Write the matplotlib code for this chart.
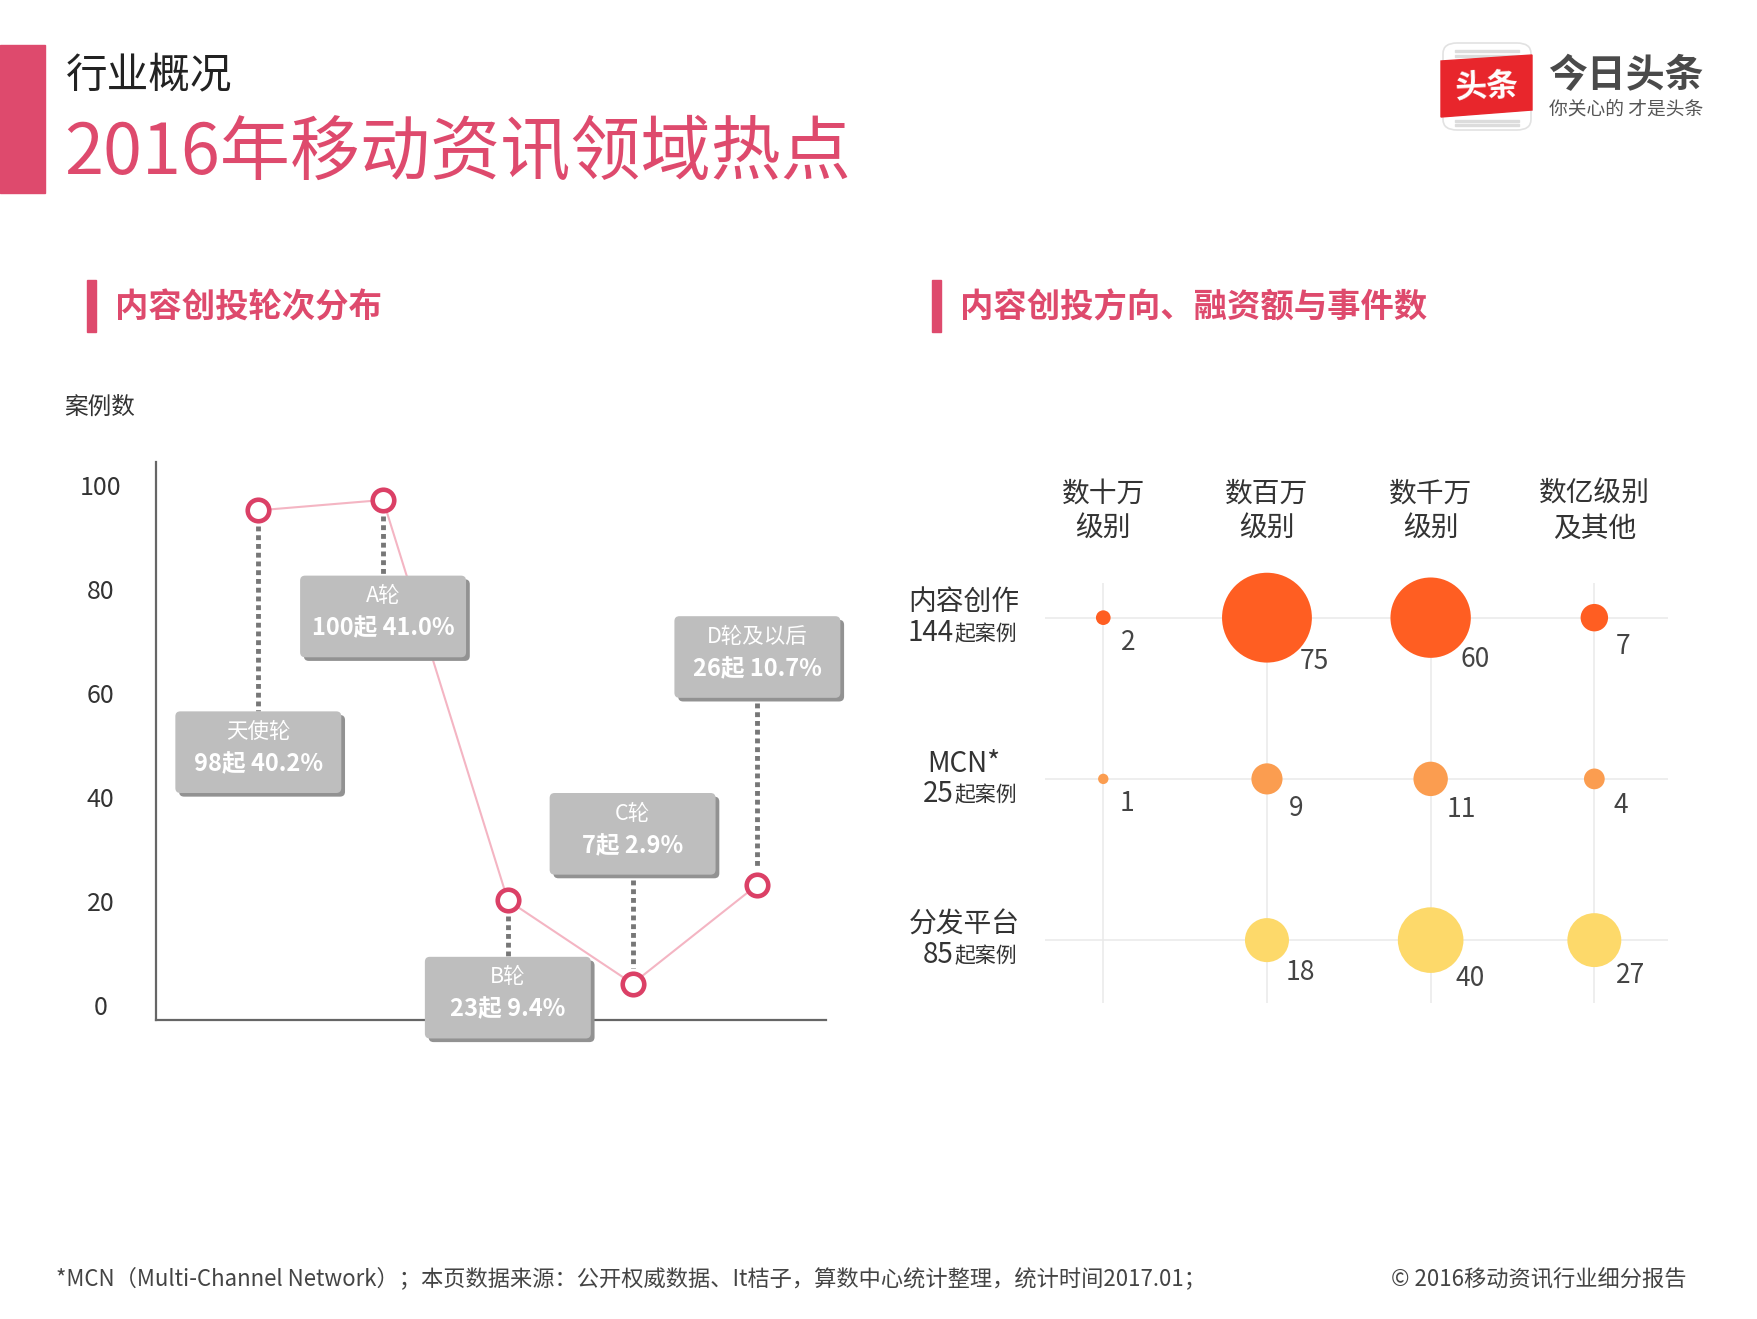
import matplotlib
matplotlib.use('Agg')
import matplotlib.pyplot as plt
from matplotlib.patches import FancyBboxPatch, Rectangle, Polygon
from matplotlib.transforms import ScaledTranslation, blended_transform_factory
import numpy as np

plt.rcParams['font.family'] = ['Noto Sans CJK SC', 'DejaVu Sans']

# left chart: investment rounds
stages = ['天使轮', 'A轮', 'B轮', 'C轮', 'D轮及以后']
counts = [98, 100, 23, 7, 26]
shares = ['40.2%', '41.0%', '9.4%', '2.9%', '10.7%']
y_ticks = [0, 20, 40, 60, 80, 100]

# right chart: direction x amount level, number of events
directions = ['内容创作', 'MCN*', '分发平台']
case_totals = [144, 25, 85]
amount_levels = ['数十万\n级别', '数百万\n级别', '数千万\n级别', '数亿级别\n及其他']
events_content = [2, 75, 60, 7]
events_mcn = [1, 9, 11, 4]
events_platform = [0, 18, 40, 27]

PINK = '#DE4A6D'
W, H = 1758, 1319

fig = plt.figure(figsize=(W / 100, H / 100), dpi=100)


def fx(x):
    return x / W


def fy(y):
    return 1 - y / H


# ---- header ----
fig.patches.append(Rectangle((0, fy(193)), fx(45), 148 / H, transform=fig.transFigure,
                             color=PINK, zorder=1))
fig.text(fx(66), fy(76), '行业概况', fontsize=30, color='#222222', va='center',
         fontweight='light')
fig.text(fx(64), fy(154), '2016年移动资讯领域热点', fontsize=50.5, color=PINK, va='center',
         fontweight='medium')

# logo
fig.patches.append(FancyBboxPatch((fx(1443), fy(130)), fx(88), 87 / H,
                                  boxstyle='round,pad=0,rounding_size=0.008',
                                  transform=fig.transFigure, facecolor='white',
                                  edgecolor='#E2E2E2', linewidth=1.2, zorder=2))
for yy in (51, 56, 121, 125):
    fig.patches.append(Rectangle((fx(1455), fy(yy + 1)), fx(64), 2 / H,
                                 transform=fig.transFigure, color='#DCDCDC', zorder=3))
fig.patches.append(Polygon([(fx(1441), fy(61)), (fx(1532), fy(55)),
                            (fx(1532), fy(110)), (fx(1441), fy(117))],
                           closed=True, transform=fig.transFigure,
                           color='#E8262C', zorder=4))
fig.text(fx(1487), fy(87), '头条', fontsize=23, fontweight='bold', color='white',
         ha='center', va='center', rotation=3, zorder=5)
fig.text(fx(1548), fy(76), '今日头条', fontsize=28, fontweight='bold', color='#4A4A4A',
         va='center')
fig.text(fx(1549), fy(109), '你关心的 才是头条', fontsize=13.5, color='#555555',
         va='center')

# section headings
for bx, title in ((87, '内容创投轮次分布'), (932, '内容创投方向、融资额与事件数')):
    fig.patches.append(Rectangle((fx(bx), fy(332)), fx(9), 52 / H,
                                 transform=fig.transFigure, color=PINK))
    fig.text(fx(bx + 28), fy(308), title, fontsize=24, fontweight='bold', color=PINK,
             va='center')

# ---- left chart ----
ax = fig.add_axes([fx(156), fy(1020), fx(826 - 156), (1020 - 462) / H])
x = np.arange(len(stages))
ax.plot(x, counts, color='#F4B5C3', linewidth=1.5, zorder=2)
ax.plot(x, counts, linestyle='none', marker='o', markersize=15.5,
        markerfacecolor='white', markeredgecolor='#DB4066', markeredgewidth=3.3,
        zorder=6, clip_on=False)
ax.set_xlim(-0.82, 4.55)
ax.set_ylim(0, 107.3)
for side in ('top', 'right'):
    ax.spines[side].set_visible(False)
for side in ('left', 'bottom'):
    ax.spines[side].set_color('#666666')
    ax.spines[side].set_linewidth(1.6)
ax.set_xticks([])
ax.set_yticks(y_ticks)
ax.tick_params(axis='y', length=0, pad=40, labelsize=18, labelcolor='#333333')
for lab in ax.get_yticklabels():
    lab.set_horizontalalignment('center')
    lab.set_fontweight('light')
    lab.set_transform(lab.get_transform() + ScaledTranslation(0, 15 / 100, fig.dpi_scale_trans))
fig.text(fx(64), fy(407), '案例数', fontsize=17, color='#333333', va='center')

# label boxes (center height in data units) and dotted leaders
label_y = [51.5, 77.6, 4.3, 35.8, 69.8]
bw, bh = 1.33, 15.7
for i in range(len(stages)):
    cy = label_y[i]
    top, bot = cy + bh / 2, cy - bh / 2
    if cy < counts[i]:
        y0, y1 = counts[i] - 3, top
    else:
        y0, y1 = bot - 1, counts[i] + 3
    ax.plot([i, i], [y0, y1], linestyle=(0, (1, 0.8)), color='#777777',
            linewidth=3.5, zorder=3)
    shadow = FancyBboxPatch((i - bw / 2 + 0.03, bot - 0.7), bw, bh,
                            boxstyle='round,pad=0,rounding_size=0.04', mutation_aspect=24,
                            facecolor='#929292', edgecolor='none', zorder=4, clip_on=False)
    box = FancyBboxPatch((i - bw / 2, bot), bw, bh,
                         boxstyle='round,pad=0,rounding_size=0.04', mutation_aspect=24,
                         facecolor='#BEBEBE', edgecolor='none', zorder=5, clip_on=False)
    ax.add_patch(shadow)
    ax.add_patch(box)
    ax.text(i, cy + 3.9, stages[i], ha='center', va='center', fontsize=15.5,
            color='white', zorder=7)
    ax.text(i, cy - 2.3, f'{counts[i]}起 {shares[i]}', ha='center', va='center',
            fontsize=17, fontweight='bold', color='white', zorder=7)

# ---- right chart ----
bx_ax = fig.add_axes([fx(1045), fy(1003), fx(1668 - 1045), (1003 - 583) / H])
events = [events_content, events_mcn, events_platform]
row_colors = ['#FF5E22', '#FB9D50', '#FDD96A']
k = 55.8
bx_ax.set_xlim(-0.356, 3.45)
bx_ax.set_ylim(2.39, -0.215)
bx_ax.set_xticks(range(len(amount_levels)))
bx_ax.set_yticks(range(len(directions)))
bx_ax.grid(True, color='#EAEAEA', linewidth=1.1)
bx_ax.set_axisbelow(True)
for s in bx_ax.spines.values():
    s.set_visible(False)
bx_ax.xaxis.tick_top()
bx_ax.set_xticklabels(amount_levels, fontsize=20, color='#333333', linespacing=1.25)
bx_ax.set_yticklabels([])
bx_ax.tick_params(length=0, pad=28)
bx_ax.tick_params(axis='y', pad=0)

for r, row in enumerate(events):
    vals = np.array(row, dtype=float)
    cols = np.arange(len(row))
    keep = vals > 0
    bx_ax.scatter(cols[keep], np.full(keep.sum(), r), s=vals[keep] * k,
                  color=row_colors[r], edgecolors='none', zorder=3, clip_on=False)
    for c, v in zip(cols[keep], vals[keep]):
        rp = np.sqrt(v * k) / 2
        bx_ax.annotate(f'{int(v)}', (c, r), xytext=(14.5 + 0.6 * rp, -(15.5 + 0.5 * rp)),
                       textcoords='offset points', ha='center', va='center',
                       fontsize=19, color='#444444', fontweight='light', zorder=4)

trans = blended_transform_factory(fig.transFigure, bx_ax.transData)
for r in range(len(directions)):
    bx_ax.annotate(directions[r], (fx(964), r), xycoords=trans, xytext=(0, 11),
                   textcoords='offset points', ha='center', va='center',
                   fontsize=20, color='#333333')
    bx_ax.annotate(str(case_totals[r]), (fx(954), r), xycoords=trans, xytext=(0, -11),
                   textcoords='offset points', ha='right', va='center',
                   fontsize=20, color='#333333', fontweight='light')
    bx_ax.annotate('起案例', (fx(954), r), xycoords=trans, xytext=(0, -12),
                   textcoords='offset points', ha='left', va='center',
                   fontsize=15, color='#333333')

# ---- footer ----
fig.text(fx(56), fy(1279),
         '*MCN（Multi-Channel Network）；本页数据来源：公开权威数据、It桔子，算数中心统计整理，统计时间2017.01；',
         fontsize=16, color='#444444', va='center', fontweight='light')
fig.text(fx(1687), fy(1279), '© 2016移动资讯行业细分报告', fontsize=16,
         color='#444444', va='center', ha='right', fontweight='light')

fig.savefig('out.png', dpi=100, facecolor='white')
